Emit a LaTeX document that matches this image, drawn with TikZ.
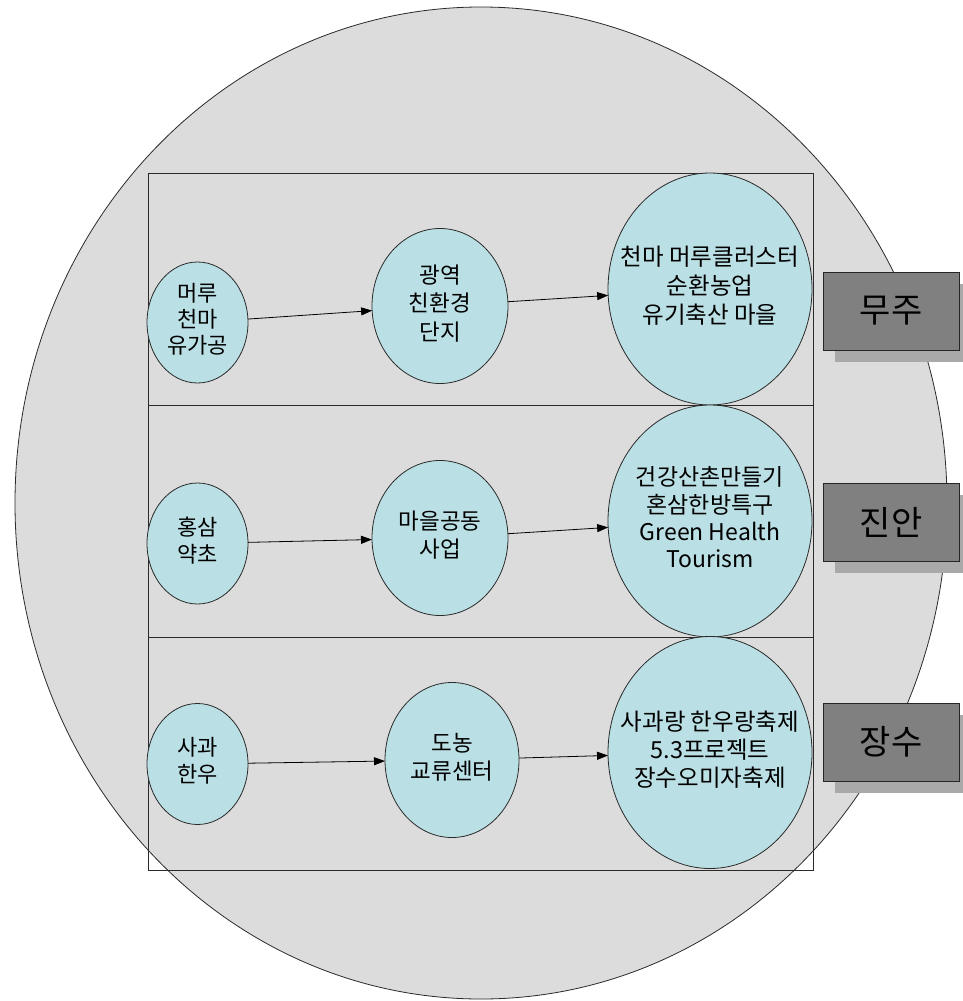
\documentclass[tikz,border=0pt]{standalone}
\usepackage{fontspec}
\setmainfont{Noto Sans CJK KR}
\usetikzlibrary{arrows.meta,shapes.geometric,shadows}
\definecolor{bggray}{HTML}{DCDCDC}
\definecolor{ellfill}{HTML}{BADFE4}
\definecolor{boxgray}{HTML}{808080}
\definecolor{shadowgray}{HTML}{A9A9A9}
\definecolor{linegray}{HTML}{2A2A2A}
\tikzset{
  ell/.style={ellipse, draw=linegray, line width=0.8pt, fill=ellfill, inner sep=0pt, outer sep=0pt},
  smallell/.style={ell, minimum width=101pt, minimum height=121pt},
  midell/.style={ell, minimum width=136pt, minimum height=155pt},
  bigell/.style={ell, minimum width=204pt, minimum height=232pt},
  region/.style={rectangle, draw=boxgray!30!black, line width=0.9pt, fill=boxgray,
    minimum width=136pt, minimum height=78pt, inner sep=0pt,
    general shadow={fill=shadowgray, shadow xshift=12pt, shadow yshift=-12pt},
    font=\fontsize{34}{36}\selectfont},
  flow/.style={-{Triangle[length=11pt,width=8pt]}, line width=0.8pt, black}
}
\newcommand{\ctext}[3]{\fontsize{#1}{#2}\selectfont\makebox[0pt]{\begin{tabular}{@{}c@{}}#3\end{tabular}}}
\begin{document}
\begin{tikzpicture}[x=1pt,y=-1pt]
\useasboundingbox (0,0) rectangle (962,1001);
% big background ellipse
\draw[fill=bggray, draw=linegray, line width=0.8pt] (481,503) ellipse [x radius=466, y radius=496];
% frame with three rows
\node[draw=linegray, line width=0.9pt, minimum width=665pt, minimum height=697pt, inner sep=0pt, anchor=north west] (frame) at (148,173) {};
\coordinate (d1l) at (148,405);
\coordinate (d1r) at (813,405);
\coordinate (d2l) at (148,637);
\coordinate (d2r) at (813,637);
\draw[linegray, line width=0.9pt] (d1l) -- (d1r);
\draw[linegray, line width=0.9pt] (d2l) -- (d2r);

% row 1 (무주)
\node[smallell] (a1) at (197.5,322.5) {\ctext{22}{26}{머루\\천마\\유가공}};
\node[midell] (b1) at (440,306) {\ctext{22.5}{28.5}{광역\\친환경\\단지}};
\node[bigell] (c1) at (710,289) {\ctext{23.5}{29}{천마 머루클러스터\\순환농업\\유기축산 마을}};
\draw[flow] (a1) -- (b1);
\draw[flow] (b1) -- (c1);

% row 2 (진안)
\node[smallell] (a2) at (197.5,543.5) {\ctext{22}{27}{홍삼\\약초}};
\node[midell] (b2) at (440,538) {\ctext{22.5}{28}{마을공동\\사업}};
\node[bigell] (c2) at (710,521) {\ctext{23}{27}{건강산촌만들기\\혼삼한방특구\\Green Health\\Tourism}};
\draw[flow] (a2) -- (b2);
\draw[flow] (b2) -- (c2);

% row 3 (장수)
\node[smallell] (a3) at (197.5,764) {\ctext{22}{27}{사과\\한우}};
\node[midell, minimum width=134pt] (b3) at (452,760) {\ctext{22.5}{28}{도농\\교류센터}};
\node[bigell] (c3) at (710,752.5) {\ctext{23.5}{28}{사과랑 한우랑축제\\5.3프로젝트\\장수오미자축제}};
\draw[flow] (a3) -- (b3);
\draw[flow] (b3) -- (c3);

% region labels
\node[region] (r1) at (891,311) {무주};
\node[region] (r2) at (891,522) {진안};
\node[region] (r3) at (891,742) {장수};
\end{tikzpicture}
\end{document}
